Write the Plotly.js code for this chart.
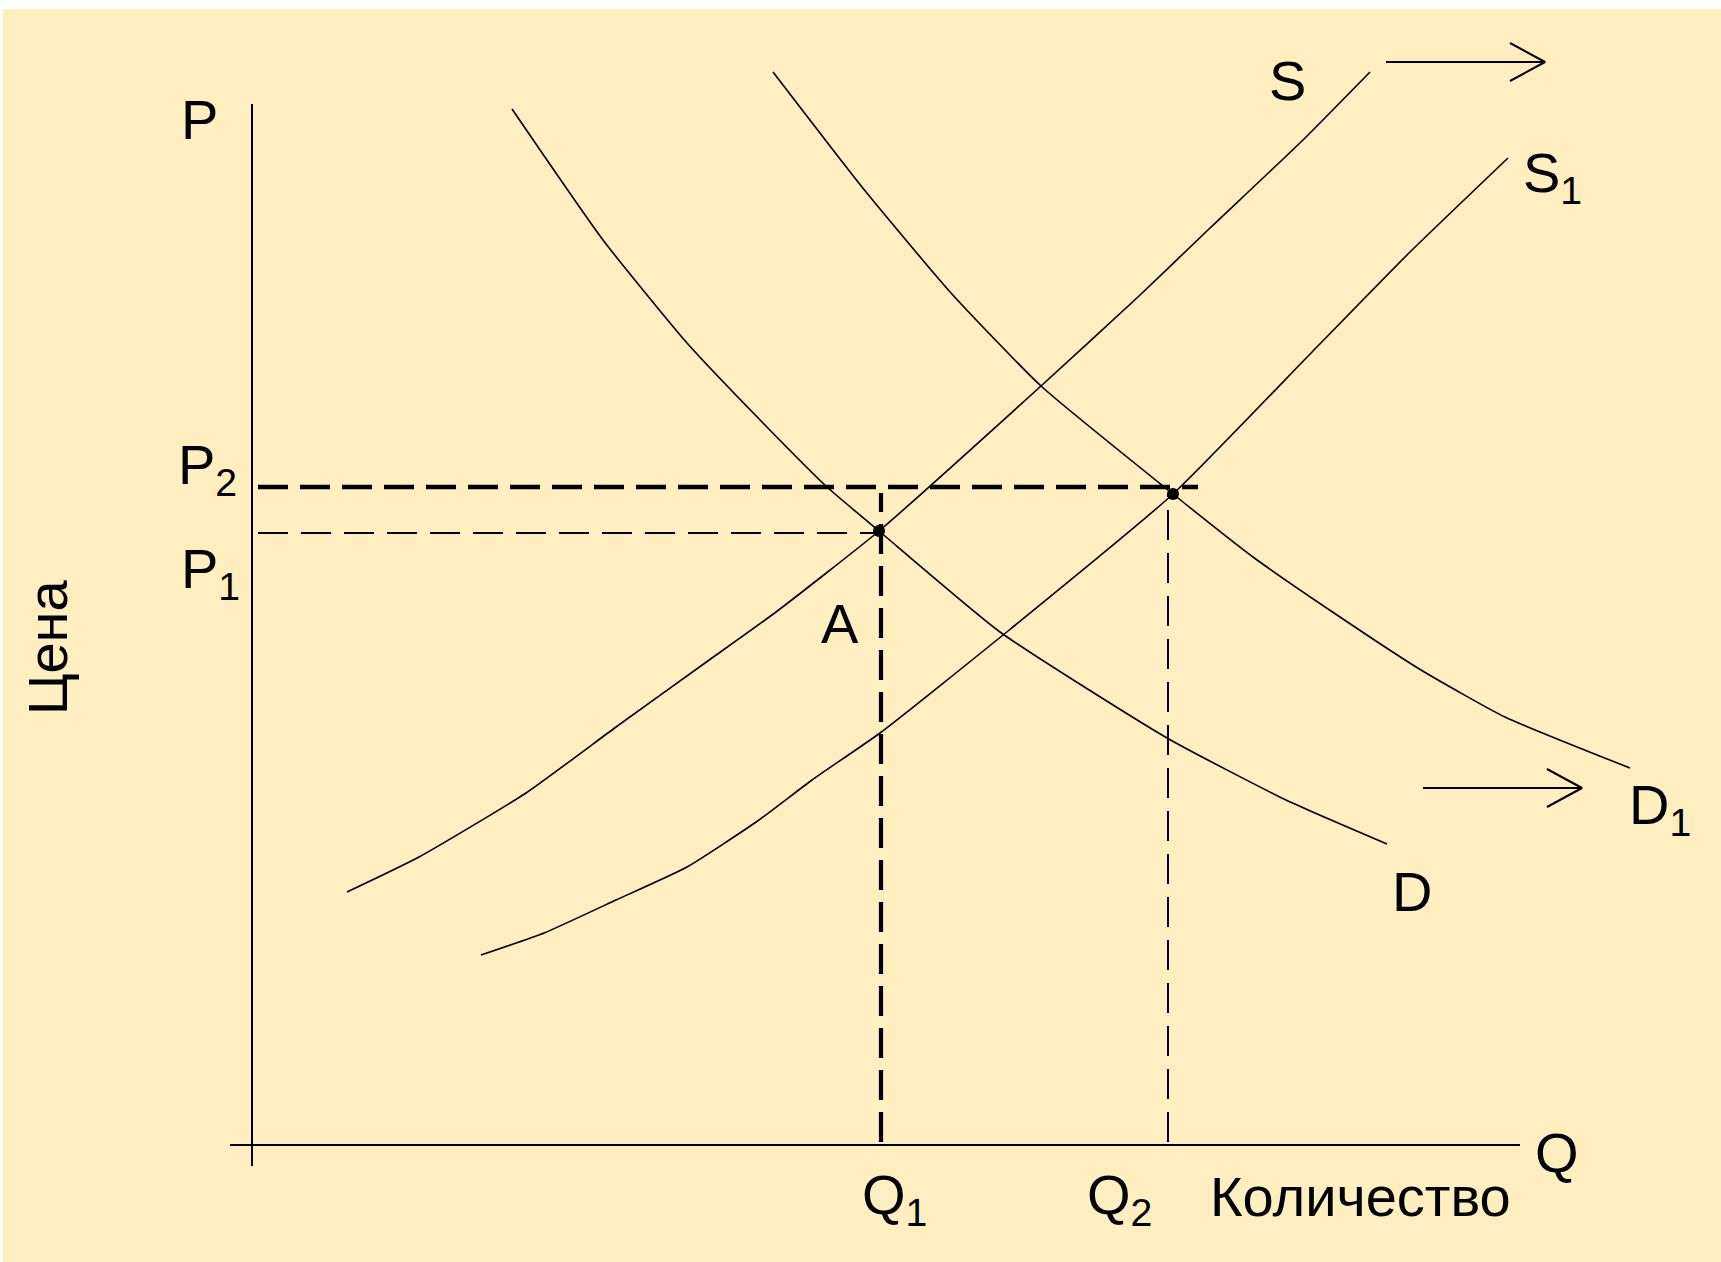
<!DOCTYPE html>
<html>
<head>
<meta charset="utf-8">
<script src="https://cdn.plot.ly/plotly-3.0.1.min.js"></script>
<style>
html,body{margin:0;padding:0;background:#ffffff;}
#chart{width:1721px;height:1262px;}
</style>
</head>
<body>
<div id="chart"></div>
<script>
// ---- Data (quantity Q on x, price P on y) ----
const supplyQ   = [0.95, 1.67, 2.74, 3.64, 4.53, 5.24, 6.27, 7.89, 8.87, 9.58, 10.51, 11.18];
const supplyP   = [2.53, 2.88, 3.52, 4.18, 4.82, 5.33, 6.14, 7.59, 8.49, 9.17, 10.05, 10.73];
const supply1Q  = [2.29, 2.92, 3.64, 4.35, 5.07, 5.60, 6.28, 7.56, 9.21, 10.61, 11.57, 12.56];
const supply1P  = [1.90, 2.12, 2.45, 2.78, 3.25, 3.65, 4.12, 5.14, 6.51, 7.94, 8.92, 9.87];
const demandQ   = [2.60, 3.51, 4.35, 5.11, 5.75, 6.27, 7.48, 9.15, 10.34, 11.35];
const demandP   = [10.36, 9.05, 8.02, 7.22, 6.58, 6.14, 5.13, 4.07, 3.45, 3.01];
const demand1Q  = [5.21, 6.10, 6.99, 7.89, 9.21, 10.01, 10.85, 11.69, 12.53, 13.78];
const demand1P  = [10.73, 9.58, 8.52, 7.59, 6.51, 5.88, 5.30, 4.75, 4.28, 3.77];

const Q1 = 6.29, Q2 = 9.16;     // equilibrium quantities
const P1 = 6.12, P2 = 6.58;     // equilibrium prices
const eqQ = [6.27, 9.21];       // equilibrium points
const eqP = [6.14, 6.51];

const axisQmax = 12.68, axisPmax = 10.41;
const p2LineEnd = 9.46;          // thick dashed P2 line extends past E2

// shift arrows: [Q start, Q end, P level]
const arrowSupply = [11.34, 12.93, 10.83];
const arrowDemand = [11.71, 13.30, 3.57];

// ---- Traces ----
const BLACK = '#000000';
const curve = (x, y) => ({x, y, type:'scatter', mode:'lines', hoverinfo:'skip',
  line:{color:BLACK, width:1.6, shape:'spline', smoothing:0.5}});
const seg = (x, y, w, dash) => ({x, y, type:'scatter', mode:'lines', hoverinfo:'skip',
  line:{color:BLACK, width:w, dash:dash || 'solid'}});

function arrow(a){
  const [x0, x1, y] = a;
  const wx = x1 - 0.35, wy = 0.19;
  return [seg([x0, x1], [y, y], 2),
          seg([wx, x1, wx], [y + wy, y, y - wy], 2)];
}

const traces = [
  seg([0, 0], [-0.21, axisPmax], 2),
  seg([-0.22, axisQmax], [0, 0], 2.2),
  seg([0.06, p2LineEnd], [P2, P2], 4.6, '30px,12px'),
  seg([0.06, eqQ[0] - 0.02], [P1, P1], 2, '30px,13px'),
  seg([Q1, Q1], [0.03, P2 - 0.06], 4.2, '30px,12px'),
  seg([Q2, Q2], [0.03, eqP[1]], 2, '30px,13px'),
  curve(supplyQ, supplyP),
  curve(supply1Q, supply1P),
  curve(demandQ, demandP),
  curve(demand1Q, demand1P),
  ...arrow(arrowSupply),
  ...arrow(arrowDemand),
  {x:eqQ, y:eqP, type:'scatter', mode:'markers', hoverinfo:'skip',
   marker:{color:BLACK, size:12}}
];

// ---- Labels ----
const FONT = {family:'"Liberation Sans", Arial, sans-serif', size:56, color:BLACK};
const lab = (text, x, y, extra) => Object.assign({text, x, y, xref:'x', yref:'y',
  showarrow:false, font:FONT, xanchor:'center', yanchor:'middle'}, extra || {});

const annotations = [
  lab('P', -0.53, 10.26),
  lab('P<sub>2</sub>', -0.45, 6.77),
  lab('P<sub>1</sub>', -0.42, 5.73),
  lab('Цена', -2.05, 4.97, {textangle:-90}),
  lab('A', 5.88, 5.22),
  lab('S', 10.35, 10.65),
  lab('S<sub>1</sub>', 13.00, 9.69),
  lab('D', 11.60, 2.54),
  lab('D<sub>1</sub>', 14.08, 3.37),
  lab('Q', 13.05, -0.07),
  lab('Q<sub>1</sub>', 6.42, -0.53),
  lab('Q<sub>2</sub>', 8.67, -0.53),
  lab('Количество', 11.08, -0.51)
];

const layout = {
  width:1721, height:1262,
  margin:{l:3, r:0, t:9, b:0, pad:0},
  paper_bgcolor:'#ffffff',
  plot_bgcolor:'#FFEEC0',
  showlegend:false,
  xaxis:{range:[-2.49, 14.69], visible:false, fixedrange:true},
  yaxis:{range:[-1.17, 11.36], visible:false, fixedrange:true},
  annotations
};

Plotly.newPlot('chart', traces, layout, {displayModeBar:false, staticPlot:true});
</script>
</body>
</html>
